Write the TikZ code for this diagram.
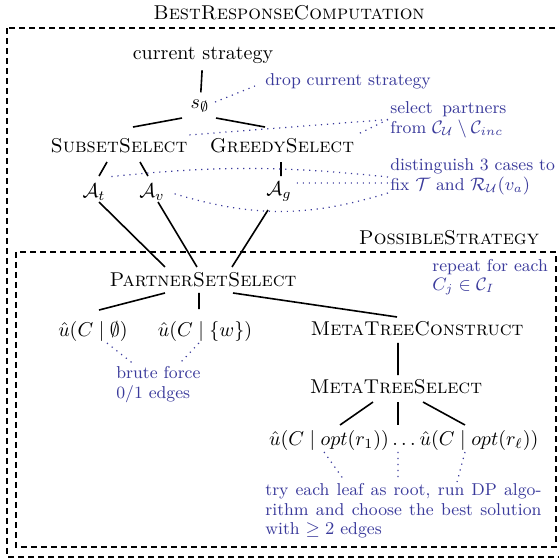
\documentclass[tikz,border=0pt]{standalone}
\usepackage{tikz}
\usetikzlibrary{arrows.meta}
\definecolor{xBlue}{RGB}{58,58,155}
\newcommand{\notesize}{\fontsize{8.6}{9.8}\selectfont}
\tikzset{
  stage/.style={align=center, font=\normalsize},
  note/.style={anchor=west, align=left, font=\notesize, text=xBlue, inner sep=1pt},
  link/.style={thick},
  hint/.style={xBlue, line width=0.6pt, dash pattern=on 0.6pt off 2.4pt},
  frame/.style={thick, dash pattern=on 3pt off 2pt},
}

\begin{document}
\begin{tikzpicture}
    \useasboundingbox (0,0) rectangle (9.806,-9.823);
    % the two procedure frames
    \draw[frame] (0.123,-0.492) rectangle (9.876,-9.788);
    \draw[frame] (0.281,-4.428) rectangle (9.770,-9.612);
    \node[stage] (brc) at (5.079,-0.228) {\textsc{BestResponseComputation}};
    \node[stage] (pst) at (7.890,-4.182) {\textsc{PossibleStrategy}};

    \node[stage] (cur)    at (3.567,-0.966) {current strategy};
    \node[stage] (s0)     at (3.515,-1.863) {$s_\emptyset$};
    \node[stage] (subset) at (2.091,-2.566) {\textsc{SubsetSelect}};
    \node[stage] (greedy) at (4.956,-2.566) {\textsc{GreedySelect}};
    \node[stage] (At)     at (1.652,-3.374) {$\mathcal{A}_t$};
    \node[stage] (Av)     at (2.671,-3.374) {$\mathcal{A}_v$};
    \node[stage] (Ag)     at (4.903,-3.374) {$\mathcal{A}_g$};
    \node[stage] (pss)    at (3.567,-4.920) {\textsc{PartnerSetSelect}};
    \node[stage] (u0)     at (1.634,-5.817) {$\hat{u}(C \mid \emptyset)$};
    \node[stage] (uw)     at (3.602,-5.817) {$\hat{u}(C \mid \{w\})$};
    \node[stage] (mtc)    at (7.328,-5.781) {\textsc{MetaTreeConstruct}};
    \node[stage] (mts)    at (6.959,-6.801) {\textsc{MetaTreeSelect}};
    \node[stage, anchor=base] (r1)   at (5.782,-7.837) {$\hat{u}(C \mid opt(r_1))$};
    \node[stage, anchor=base] (dots) at (7.099,-7.837) {$\ldots$};
    \node[stage, anchor=base] (rl)   at (8.417,-7.837) {$\hat{u}(C \mid opt(r_\ell))$};

    % annotations
    \node[note] (drop)  at (4.622,-1.423) {drop current strategy};
    \node[note, text width=58pt, align=justify] (sel) at (6.818,-2.100)
      {select partners\linebreak from $\mathcal{C}_\mathcal{U} \setminus \mathcal{C}_{inc}$};
    \node[note] (dist)  at (6.818,-3.110) {distinguish 3 cases to\\fix $\mathcal{T}$ and $\mathcal{R}_\mathcal{U}(v_a)$};
    \node[note] (rep)   at (7.556,-4.868) {repeat for each\\$C_j \in \mathcal{C}_I$};
    \node[note] (brute) at (2.003,-6.757) {brute force\\0/1 edges};
    \node[note, text width=138pt, align=justify] (try) at (4.622,-8.980)
      {try each leaf as root, run DP algo-\linebreak rithm and choose the best solution\linebreak with $\geq 2$ edges};

    % tree edges
    \draw[link] (cur) -- (s0);
    \draw[link] ([shift={(-9pt,-6pt)}]s0.center) -- ([shift={(7pt,9.5pt)}]subset.center);
    \draw[link] ([shift={(8pt,-6pt)}]s0.center) -- ([shift={(-8.5pt,9.5pt)}]greedy.center);
    \draw[link] ([shift={(-6pt,-8pt)}]subset.center) -- ([shift={(2.5pt,8pt)}]At.center);
    \draw[link] ([shift={(10.5pt,-8pt)}]subset.center) -- ([shift={(-2pt,8pt)}]Av.center);
    \draw[link] ([shift={(-0.5pt,-8pt)}]greedy.center) -- ([shift={(1pt,8pt)}]Ag.center);
    \draw[link] ([shift={(2.5pt,-5pt)}]At.center) -- ([shift={(-19pt,6.5pt)}]pss.center);
    \draw[link] ([shift={(3pt,-5pt)}]Av.center) -- ([shift={(-3pt,6.5pt)}]pss.center);
    \draw[link] ([shift={(-5.5pt,-9pt)}]Ag.center) -- ([shift={(14.5pt,6.5pt)}]pss.center);
    \draw[link] ([shift={(-19pt,-6.5pt)}]pss.center) -- ([shift={(3pt,10.5pt)}]u0.center);
    \draw[link] ([shift={(-2pt,-6.5pt)}]pss.center) -- ([shift={(-3pt,11pt)}]uw.center);
    \draw[link] ([shift={(15pt,-6.5pt)}]pss.center) -- ([shift={(-10pt,6pt)}]mtc.center);
    \draw[link] ([shift={(-9.5pt,-7pt)}]mtc.center) -- ([shift={(1pt,6pt)}]mts.center);
    \draw[link] ([shift={(-11.5pt,-7.5pt)}]mts.center) -- ([shift={(5.5pt,8pt)}]r1.center);
    \draw[link] ([shift={(1pt,-7.5pt)}]mts.center) -- ([shift={(-3pt,10.5pt)}]dots.base);
    \draw[link] ([shift={(13.5pt,-7.5pt)}]mts.center) -- ([shift={(-7pt,8pt)}]rl.center);

    % dotted pointers to the annotations
    \draw[hint] ([shift={(7.5pt,2pt)}]s0.center) -- ([shift={(-4pt,-2.5pt)}]drop.west);
    \draw[hint] (sel.west) -- ([shift={(34.5pt,5.5pt)}]subset.center);
    \draw[hint] (sel.west) -- ([shift={(37pt,5.5pt)}]greedy.center);
    \draw[hint] (dist.west) to[bend right=6] ([shift={(6.5pt,7.5pt)}]At.center);
    \draw[hint] ([yshift=-3pt]dist.west) -- ([shift={(6.5pt,4.5pt)}]Ag.center);
    \draw[hint] ([yshift=-8pt]dist.west) to[bend left=17] ([shift={(10pt,-0.5pt)}]Av.center);
    \draw[hint] ([shift={(7pt,-6pt)}]u0.center) -- ([shift={(10.5pt,9.75pt)}]brute.west);
    \draw[hint] ([shift={(-3pt,-6pt)}]uw.center) -- ([shift={(33pt,10.75pt)}]brute.west);
    \draw[hint] ([shift={(-2.5pt,-5.5pt)}]r1.center) -- ([shift={(40.5pt,15.5pt)}]try.west);
    \draw[hint] ([shift={(-3pt,-3pt)}]dots.base) -- ([shift={(67.5pt,16.5pt)}]try.west);
    \draw[hint] ([shift={(-7pt,-5.5pt)}]rl.center) -- ([shift={(97pt,14.5pt)}]try.west);
\end{tikzpicture}
\end{document}
